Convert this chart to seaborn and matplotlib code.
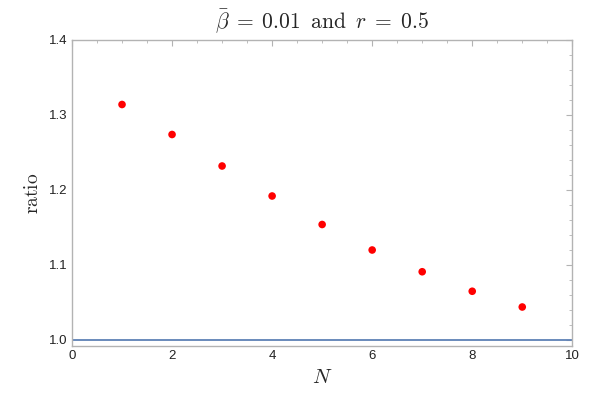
import numpy as np
import pandas as pd
import matplotlib
matplotlib.use("Agg")
import matplotlib.pyplot as plt
import seaborn as sns
from matplotlib.ticker import MultipleLocator

# values
N = [1, 2, 3, 4, 5, 6, 7, 8, 9]
ratio = [1.314, 1.274, 1.232, 1.192, 1.154, 1.120, 1.091, 1.065, 1.044]
baseline = 1.0

sns.set_style("white")
plt.rcParams['font.family'] = ['Liberation Sans', 'DejaVu Sans']
plt.rcParams['mathtext.fontset'] = 'cm'

df = pd.DataFrame({'N': N, 'ratio': ratio})

fig = plt.figure(figsize=(5.99, 4.0), dpi=100)
ax = fig.add_axes([0.1202, 0.135, 0.8352, 0.765])

ax.axhline(baseline, color='#5E81B5', lw=1.3, zorder=1)
sns.scatterplot(data=df, x='N', y='ratio', color='red', s=30, edgecolor='none', ax=ax, zorder=3)

ax.set_xlim(0, 10)
ax.set_ylim(0.992, 1.4)
ax.xaxis.set_major_locator(MultipleLocator(2))
ax.xaxis.set_minor_locator(MultipleLocator(0.5))
ax.yaxis.set_major_locator(MultipleLocator(0.1))
ax.yaxis.set_minor_locator(MultipleLocator(0.02))
ax.yaxis.set_major_formatter(plt.FuncFormatter(lambda v, p: f'{v:.1f}'))

for s in ax.spines.values():
    s.set_color('#b3b3b3')
    s.set_linewidth(1.0)
ax.tick_params(which='both', direction='in', top=True, right=True, color='#b3b3b3',
               labelsize=9.5, labelcolor='#222222', pad=3)
ax.tick_params(which='major', length=4, width=0.8)
ax.tick_params(which='minor', length=2.2, width=0.6)

ax.set_xlabel(r'$N$', fontsize=15, labelpad=4)
ax.set_ylabel(r'$\mathrm{ratio}$', fontsize=14, labelpad=5)
ax.set_title(r'$\bar{\beta}\;=\;0.01\;\; \mathrm{and}\;\; r\;=\;0.5$', fontsize=15.5, pad=8)

fig.savefig('out.png', dpi=100)
